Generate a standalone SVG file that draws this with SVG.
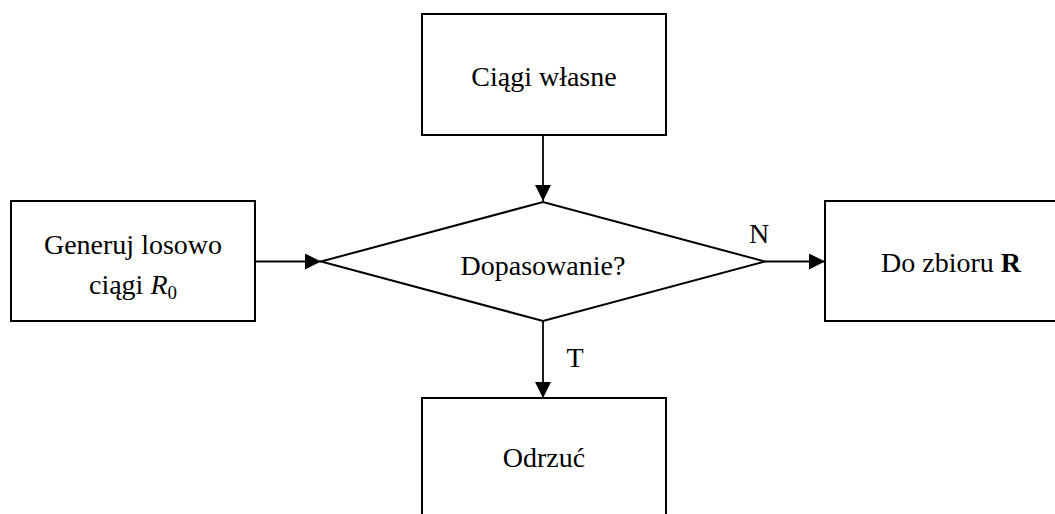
<svg xmlns="http://www.w3.org/2000/svg" width="1055" height="514" viewBox="0 0 1055 514">
<style>
.box{fill:#fff;stroke:#000;stroke-width:2}
.lbl{font-family:"Liberation Serif","DejaVu Serif",serif;font-size:28px;fill:#000;text-anchor:middle}
.edge{stroke:#000;stroke-width:1.8;fill:none}
</style>
<defs>
<marker id="ah" viewBox="0 0 16 16" refX="16" refY="8" markerWidth="16" markerHeight="16" markerUnits="userSpaceOnUse" orient="auto">
<path d="M0,0 L16,8 L0,16 Z" fill="#000"/>
</marker>
</defs>
<rect width="1055" height="514" fill="#fff"/>
<g id="connectors">
<line class="edge" x1="543" y1="135" x2="543" y2="201" marker-end="url(#ah)"/>
<line class="edge" x1="255" y1="261.5" x2="321" y2="261.5" marker-end="url(#ah)"/>
<line class="edge" x1="765" y1="261.5" x2="825" y2="261.5" marker-end="url(#ah)"/>
<line class="edge" x1="543" y1="321" x2="543" y2="398" marker-end="url(#ah)"/>
<text class="lbl" x="759" y="243">N</text>
<text class="lbl" x="575" y="367">T</text>
</g>
<g id="n_ciagi">
<rect class="box" x="422" y="14" width="244" height="121"/>
<text class="lbl" x="544" y="86">Ciągi własne</text>
</g>
<g id="n_generuj">
<rect class="box" x="11" y="201" width="244" height="120"/>
<text class="lbl" x="133" y="254">Generuj losowo</text>
<text class="lbl" x="133" y="294">ciągi <tspan font-style="italic">R</tspan><tspan font-size="19" dy="5">0</tspan></text>
</g>
<g id="n_dopasowanie">
<polygon points="321,261.5 543,202 765,261.5 543,321" fill="#fff" stroke="#000" stroke-width="2"/>
<text class="lbl" x="543" y="275">Dopasowanie?</text>
</g>
<g id="n_zbior">
<rect class="box" x="825" y="201" width="244" height="120"/>
<text class="lbl" x="951" y="272">Do zbioru <tspan font-weight="bold">R</tspan></text>
</g>
<g id="n_odrzuc">
<rect class="box" x="422" y="398" width="244" height="130"/>
<text class="lbl" x="544" y="467">Odrzuć</text>
</g>
</svg>
